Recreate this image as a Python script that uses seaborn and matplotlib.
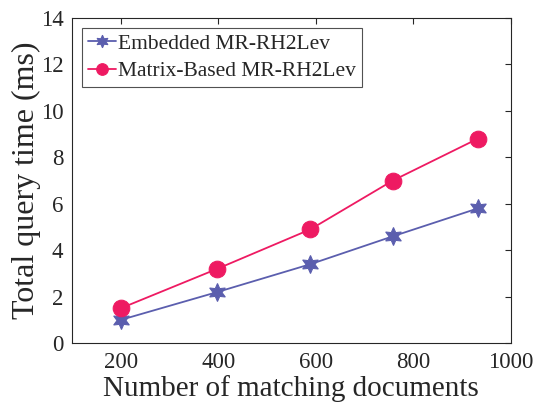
import matplotlib
matplotlib.use("Agg")
import matplotlib.pyplot as plt
import seaborn as sns
import pandas as pd

# Query time vs. number of matching documents
docs = [200, 398, 589, 758, 932]
embedded = [1.0, 2.2, 3.4, 4.6, 5.8]
matrix_based = [1.5, 3.2, 4.9, 7.0, 8.8]
series_names = ["Embedded MR-RH2Lev", "Matrix-Based MR-RH2Lev"]

df = pd.DataFrame({
    "docs": docs * 2,
    "time": embedded + matrix_based,
    "method": [series_names[0]] * len(docs) + [series_names[1]] * len(docs),
})

sns.set_theme(style="white")
plt.rcParams["font.family"] = ["Liberation Serif", "DejaVu Serif"]
plt.rcParams["xtick.direction"] = "in"
plt.rcParams["ytick.direction"] = "in"

fig = plt.figure(figsize=(5.4, 4.18), dpi=100)
ax = fig.add_axes([0.133, 0.179, 0.813, 0.778])

palette = {series_names[0]: "#5B5EAE", series_names[1]: "#EE1A62"}
markers = {series_names[0]: (6, 1, 0), series_names[1]: "o"}
sizes = {series_names[0]: 13, series_names[1]: 12}

for name in series_names:
    sub = df[df["method"] == name]
    sns.lineplot(data=sub, x="docs", y="time", ax=ax, color=palette[name],
                 marker=markers[name], markersize=sizes[name],
                 markeredgecolor=palette[name], linewidth=1.3, label=name)

ax.set_xlim(100, 1000)
ax.set_ylim(0, 14)
ax.set_xticks([200, 400, 600, 800, 1000])
ax.set_yticks(range(0, 15, 2))
ax.tick_params(axis="both", labelsize=16.5, length=4, width=0.8, color="#262626",
               top=True, right=True, pad=6)
for s in ax.spines.values():
    s.set_color("#262626")
    s.set_linewidth(0.8)
ax.set_xlabel("Number of matching documents", fontsize=21, labelpad=2)
ax.set_ylabel("Total query time (ms)", fontsize=23, labelpad=-0.5)

leg = ax.legend(loc="upper left", fontsize=15.5, frameon=True, fancybox=False,
                handlelength=1.3, handletextpad=0.1, borderpad=0.28,
                labelspacing=0.35, borderaxespad=0.45, markerscale=0.7)
leg.get_frame().set_edgecolor("#262626")
leg.get_frame().set_linewidth(0.8)

fig.savefig("out.png", dpi=100)
